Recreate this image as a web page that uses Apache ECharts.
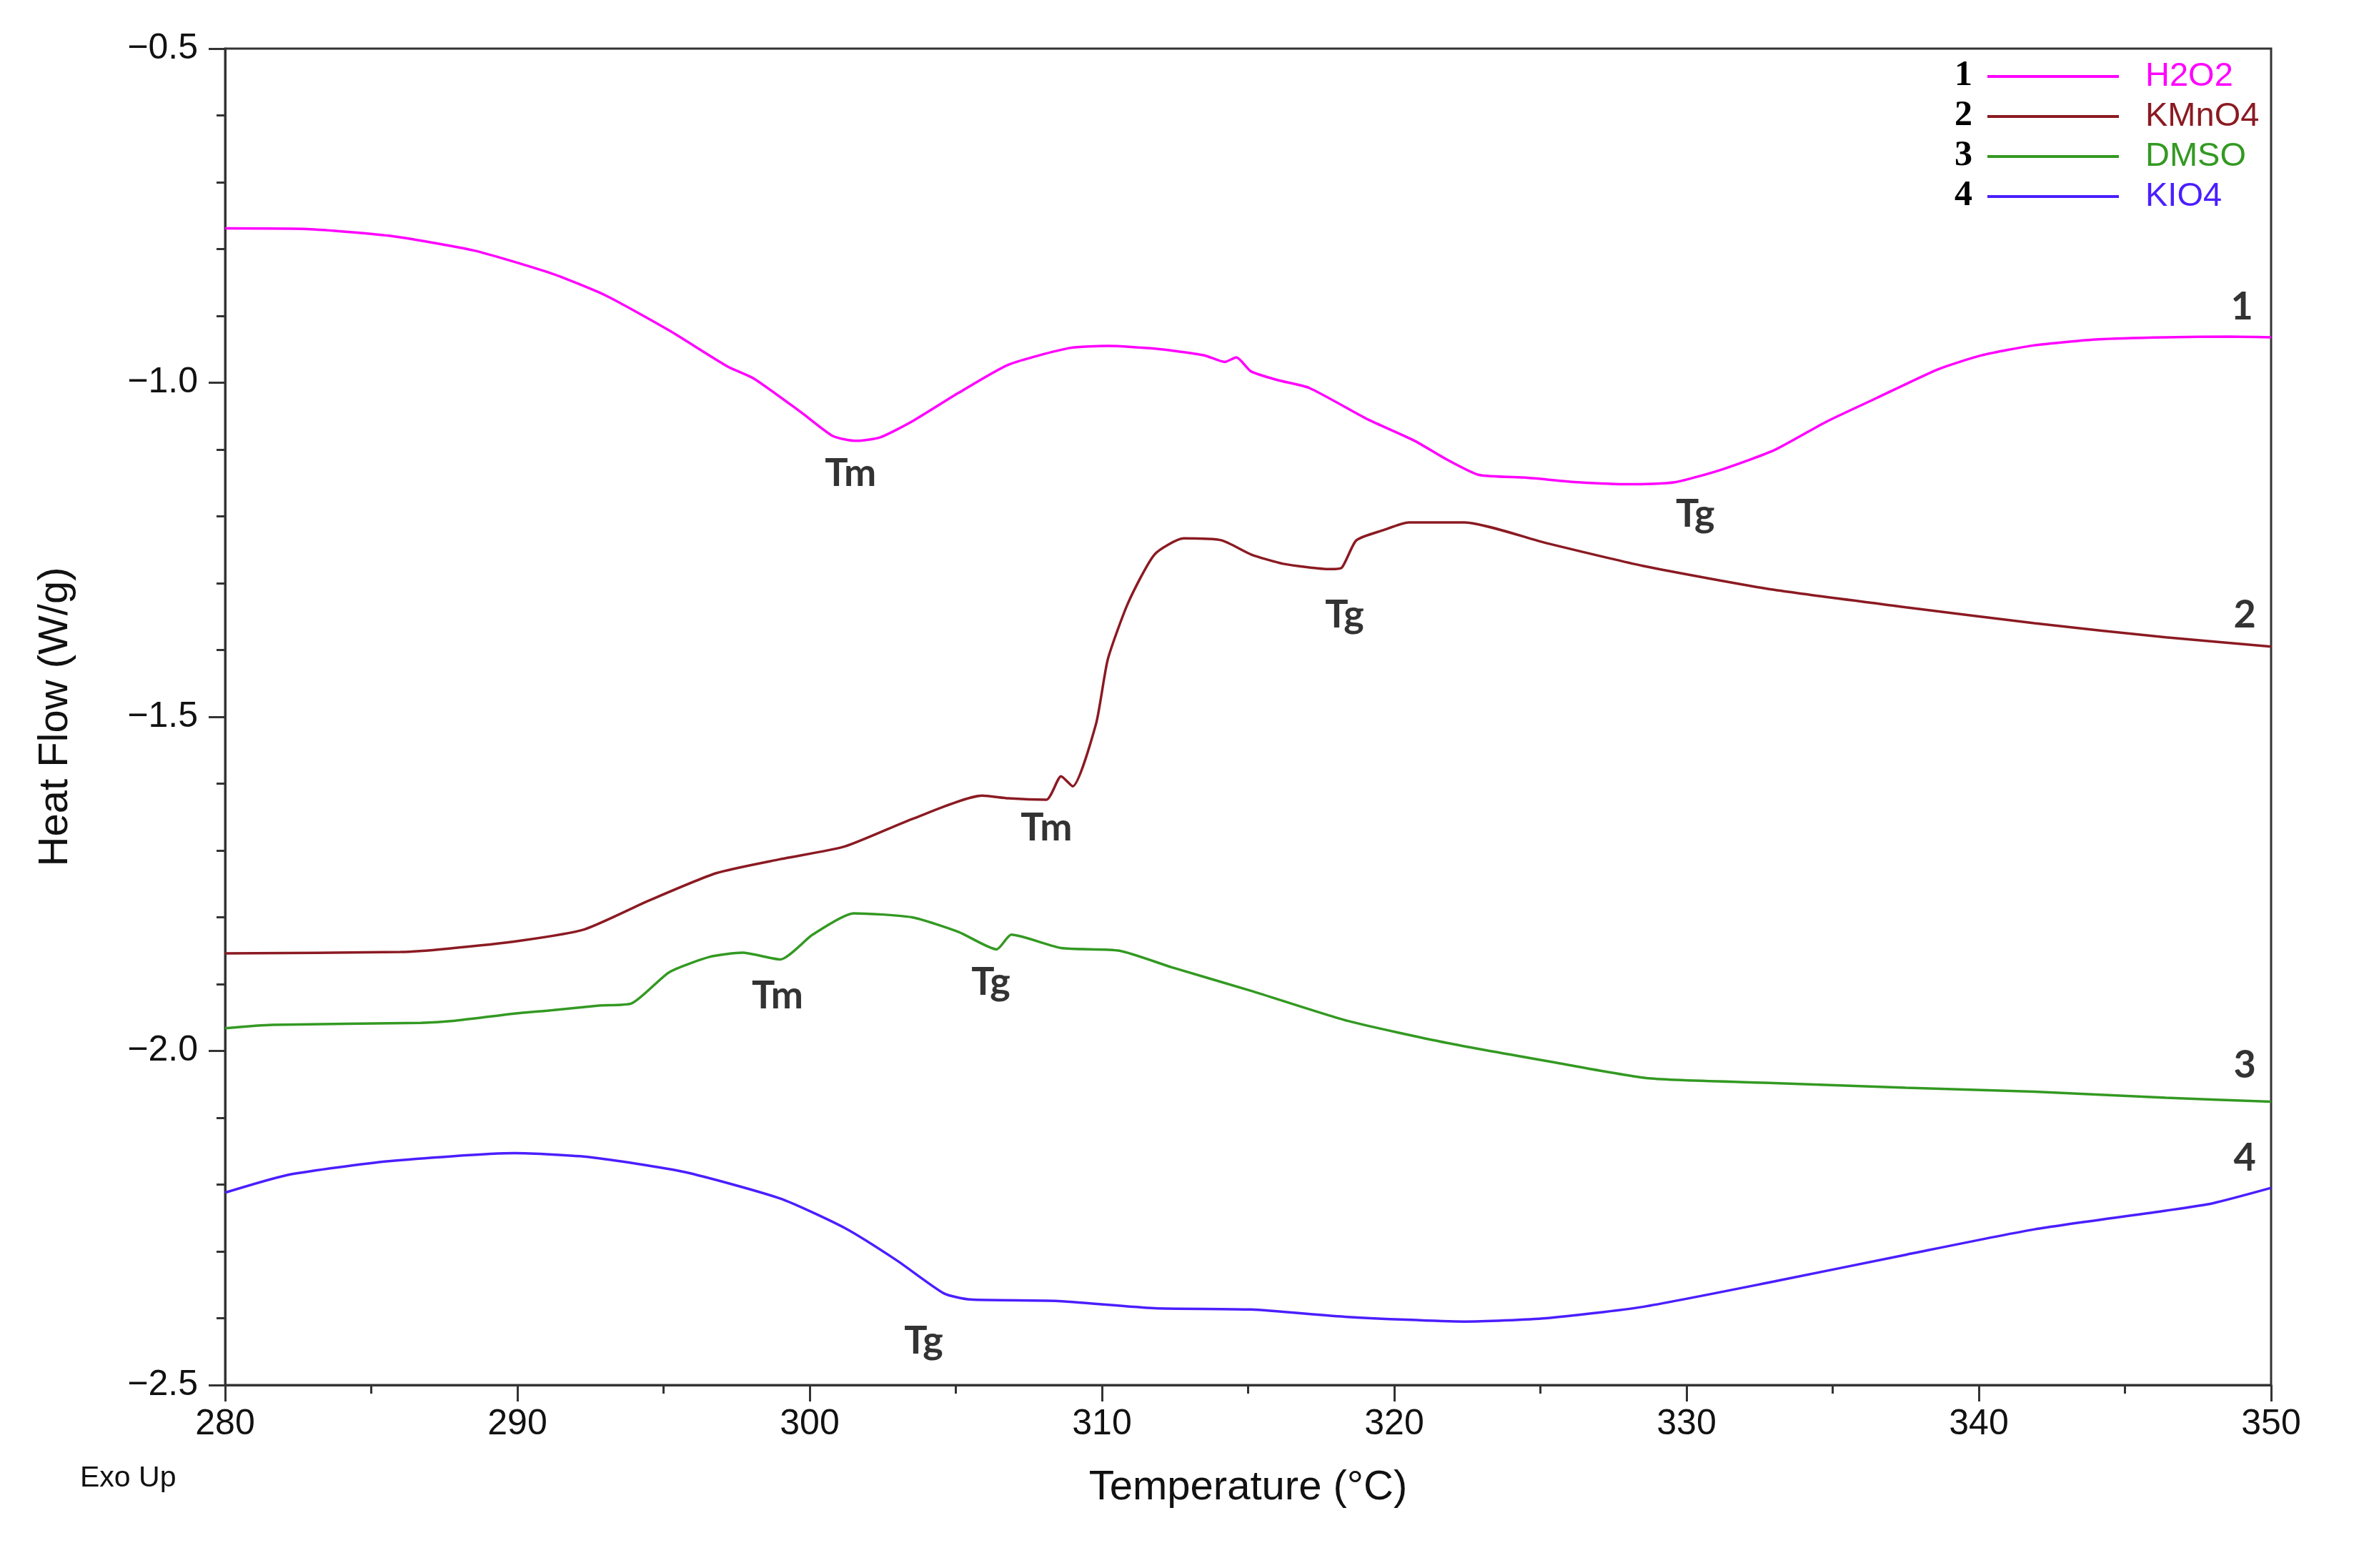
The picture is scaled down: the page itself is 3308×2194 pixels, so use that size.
<!DOCTYPE html>
<html>
<head>
<meta charset="utf-8">
<script src="https://cdn.jsdelivr.net/npm/echarts@6/dist/echarts.min.js"></script>
<style>
  html, body { margin: 0; padding: 0; background: #fff; }
  #chart { width: 3308px; height: 2194px; }
</style>
</head>
<body>
<div id="chart"></div>
<script>
// temperatures (°C) and heat flow (W/g)
const h2o2T = [280, 282.8, 285.6, 288.5, 291.2, 293.0, 295.2, 297.2, 298.1, 299.7, 300.8, 301.6, 302.4, 303.5, 305.1, 306.8, 308.9, 310.2, 311.8, 313.5, 314.2, 314.6, 315.1, 316.0, 317.1, 319.1, 320.7, 321.8, 322.9, 324.5, 326.3, 328.1, 329.6, 331.2, 333.0, 334.8, 336.5, 338.6, 340.1, 341.9, 344.1, 346.4, 348.6, 350];
const h2o2Y = [-0.769, -0.770, -0.780, -0.802, -0.837, -0.869, -0.922, -0.976, -0.994, -1.044, -1.080, -1.087, -1.082, -1.058, -1.015, -0.973, -0.948, -0.945, -0.949, -0.959, -0.969, -0.962, -0.983, -0.996, -1.008, -1.055, -1.087, -1.115, -1.138, -1.142, -1.149, -1.152, -1.149, -1.130, -1.101, -1.058, -1.023, -0.980, -0.959, -0.944, -0.935, -0.932, -0.931, -0.932];

const kmno4T = [280, 286.0, 287.6, 290.1, 292.3, 294.5, 296.8, 299.0, 301.2, 303.5, 305.9, 306.8, 308.1, 308.6, 309.0, 309.8, 310.2, 310.9, 311.8, 312.8, 314.1, 315.1, 316.2, 317.8, 318.2, 318.7, 319.6, 320.5, 322.4, 325.2, 328.5, 333.0, 337.5, 341.9, 346.4, 350];
const kmno4Y = [-1.854, -1.852, -1.847, -1.835, -1.818, -1.775, -1.734, -1.713, -1.694, -1.653, -1.618, -1.622, -1.624, -1.589, -1.604, -1.510, -1.414, -1.329, -1.257, -1.233, -1.236, -1.257, -1.271, -1.279, -1.277, -1.236, -1.221, -1.209, -1.209, -1.240, -1.274, -1.310, -1.336, -1.360, -1.381, -1.395];

const dmsoT = [280, 281.6, 286.7, 287.8, 289.9, 291.2, 292.8, 293.9, 295.2, 296.6, 297.7, 299.0, 300.1, 301.5, 303.5, 305.1, 306.4, 306.9, 308.6, 310.6, 312.4, 315.1, 318.4, 321.8, 325.2, 328.7, 333.0, 337.5, 341.9, 346.4, 350];
const dmsoY = [-1.966, -1.961, -1.958, -1.955, -1.944, -1.939, -1.932, -1.929, -1.882, -1.859, -1.853, -1.863, -1.826, -1.794, -1.800, -1.822, -1.848, -1.826, -1.846, -1.850, -1.875, -1.910, -1.955, -1.988, -2.015, -2.041, -2.048, -2.055, -2.061, -2.070, -2.076];

const kio4T = [280, 282.2, 285.6, 289.9, 292.5, 295.7, 299.0, 301.2, 303.0, 304.6, 305.5, 308.4, 311.8, 315.1, 318.4, 322.4, 325.2, 328.5, 333.0, 337.5, 341.9, 346.4, 348.0, 350];
const kio4Y = [-2.212, -2.185, -2.165, -2.153, -2.159, -2.181, -2.221, -2.265, -2.314, -2.363, -2.372, -2.374, -2.385, -2.387, -2.398, -2.405, -2.400, -2.383, -2.345, -2.305, -2.267, -2.239, -2.228, -2.205];

const names = ['H2O2', 'KMnO4', 'DMSO', 'KIO4'];
const colors = ['#ff00ff', '#8b1a22', '#339922', '#4b1eff'];

// Tm / Tg marks and the curve numbers at the right end
const notes = [
  [301.4, -1.136, 'Tm'], [330.3, -1.197, 'Tg'],
  [318.3, -1.348, 'Tg'], [308.1, -1.666, 'Tm'],
  [298.9, -1.918, 'Tm'], [306.2, -1.897, 'Tg'],
  [303.9, -2.434, 'Tg'],
  [349.0, -0.887, '1'], [349.1, -1.348, '2'], [349.1, -2.021, '3'], [349.1, -2.161, '4']
];

const zip = (xs, ys) => xs.map((x, i) => [x, ys[i]]);
const traces = [zip(h2o2T, h2o2Y), zip(kmno4T, kmno4Y), zip(dmsoT, dmsoY), zip(kio4T, kio4Y)];

const sans = 'Liberation Sans';
const chart = echarts.init(document.getElementById('chart'));

const lineSeries = traces.map((d, i) => ({
  name: names[i],
  type: 'line',
  data: d,
  symbol: 'none',
  smooth: 0.2,
  lineStyle: { color: colors[i], width: 3.5 },
  itemStyle: { color: colors[i] },
  z: 3
}));

const axisCommon = {
  axisLine: { show: true, lineStyle: { color: '#333', width: 3 } },
  axisTick: { show: true, inside: false, length: 23, lineStyle: { color: '#333', width: 3 } },
  minorTick: { show: true, length: 12, lineStyle: { color: '#333', width: 3 } },
  splitLine: { show: false },
  minorSplitLine: { show: false }
};

const option = {
  backgroundColor: '#fff',
  animation: false,
  grid: { left: 315, right: 130, top: 68, bottom: 256, show: true, borderColor: '#333', borderWidth: 3 },
  xAxis: Object.assign({}, axisCommon, {
    type: 'value', min: 280, max: 350, interval: 10,
    minorTick: Object.assign({}, axisCommon.minorTick, { splitNumber: 2 }),
    axisLabel: { fontFamily: sans, fontSize: 50, color: '#111', margin: 30 },
    name: 'Temperature (°C)', nameLocation: 'middle', nameGap: 115,
    nameTextStyle: { fontFamily: sans, fontSize: 58, color: '#111' }
  }),
  yAxis: Object.assign({}, axisCommon, {
    type: 'value', min: -2.5, max: -0.5, interval: 0.5,
    minorTick: Object.assign({}, axisCommon.minorTick, { splitNumber: 5 }),
    axisLabel: {
      fontFamily: sans, fontSize: 50, color: '#111', margin: 38,
      formatter: v => v.toFixed(1).replace('-', '\u2212')
    },
    name: 'Heat Flow (W/g)', nameLocation: 'middle', nameGap: 208,
    nameTextStyle: { fontFamily: sans, fontSize: 58, color: '#111' }
  }),
  legend: {
    orient: 'vertical', left: 2781, top: 79, padding: 0, itemGap: 0,
    itemWidth: 184, itemHeight: 4, selectedMode: false, icon: 'rect',
    data: names.map((n, i) => ({ name: n, icon: 'rect', itemStyle: { color: colors[i] }, textStyle: { color: colors[i] } })),
    textStyle: { fontFamily: sans, fontSize: 47, lineHeight: 56, padding: [0, 0, 0, 32] }
  },
  graphic: [
    ...['1', '2', '3', '4'].map((t, i) => ({
      type: 'text', left: 2735, top: 79 + i * 56 + 2,
      style: { text: t, font: 'bold 50px "Liberation Serif"', fill: '#000' }
    })),
    { type: 'text', left: 112, top: 2048, style: { text: 'Exo Up', font: '41px "Liberation Sans"', fill: '#111' } }
  ],
  series: [
    ...lineSeries,
    {
      type: 'scatter',
      data: notes,
      symbolSize: 2,
      itemStyle: { color: 'rgba(0,0,0,0)' },
      silent: true,
      z: 5,
      label: {
        show: true, position: 'inside',
        formatter: p => p.value[2],
        fontFamily: 'Lato', fontWeight: 'bold', fontSize: 54, color: '#000'
      }
    }
  ]
};

chart.setOption(option);
</script>
</body>
</html>
